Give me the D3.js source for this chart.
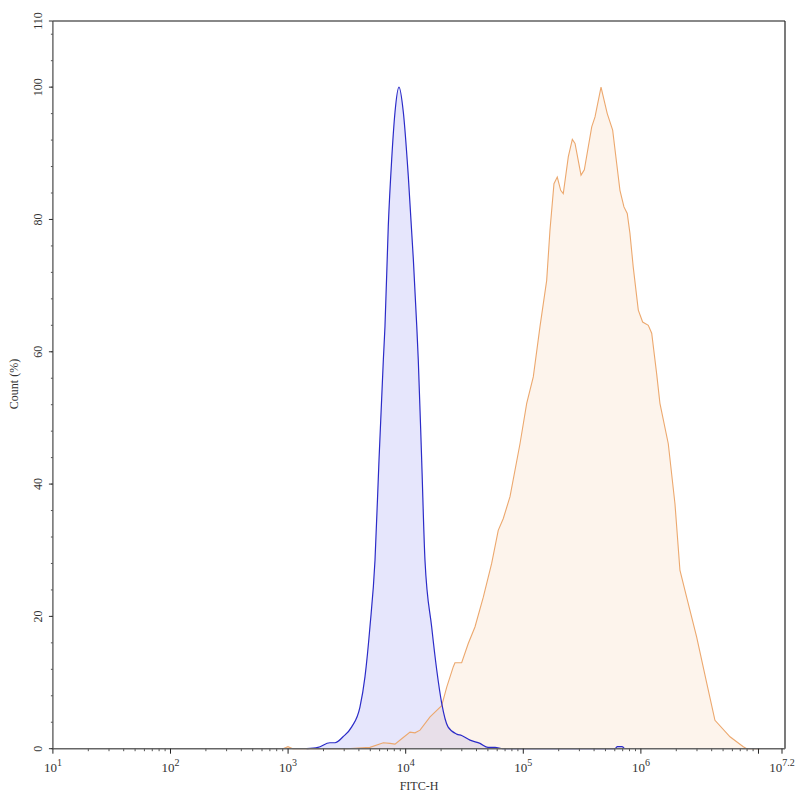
<!DOCTYPE html>
<html lang="en">
  <head>
    <meta charset="utf-8" />
    <title>FITC-H histogram</title>
    <style>
      body {
        margin: 0;
        background: #fff;
      }
      text {
        font-family: 'Liberation Serif', 'DejaVu Serif', serif;
        fill: #333;
      }
    </style>
    <script src="https://d3js.org/d3.v7.min.js"></script>
  </head>

  <body>
    <svg width="800" height="800"></svg>

    <script>
      // blue sample: log10(FITC-H) and count (%)
      const blueLog = [
        3.158, 3.254, 3.356, 3.399, 3.467, 3.541, 3.611, 3.654, 3.696,
        3.739, 3.773, 3.81, 3.824, 3.852, 3.881, 3.909, 3.943, 3.98,
        4.022, 4.065, 4.094, 4.107, 4.136, 4.164, 4.221, 4.264, 4.306,
        4.36, 4.434, 4.476, 4.547, 4.632, 4.7, 4.76, 4.827, 5.78, 5.8,
        5.84, 5.86,
      ];
      const blueCount = [
        0, 0.2, 0.9, 0.9, 1.8, 3.3, 6.3, 10.9, 18.4, 28.5, 43.6, 58.8,
        63.9, 79, 89.1, 96.2, 100, 96.2, 86.6, 74, 63.9, 58.8, 43.6,
        28.5, 18.4, 11.9, 6.9, 3.3, 2.2, 2.0, 1.3, 0.8, 0.2, 0.2, 0, 0,
        0.3, 0.3, 0,
      ];

      // orange sample
      const orangeLog = [
        2.956, 2.999, 3.04, 3.498, 3.696, 3.81, 3.867, 3.909, 3.966,
        4.037, 4.079, 4.122, 4.207, 4.306, 4.349, 4.405, 4.419, 4.476,
        4.532, 4.589, 4.66, 4.731, 4.787, 4.83, 4.887, 4.972, 5.029,
        5.085, 5.142, 5.199, 5.227, 5.261, 5.289, 5.318, 5.34, 5.383,
        5.417, 5.44, 5.491, 5.519, 5.582, 5.61, 5.661, 5.714, 5.76,
        5.794, 5.822, 5.856, 5.884, 5.907, 5.935, 5.978, 6.015, 6.063,
        6.092, 6.134, 6.162, 6.233, 6.29, 6.332, 6.389, 6.474, 6.56,
        6.63, 6.758, 6.871, 6.9, 7.013,
      ];
      const orangeCount = [
        0, 0.3, 0, 0, 0.2, 0.9, 0.8, 0.7, 1.5, 2.5, 2.4, 2.8, 4.8, 6.5,
        9.3, 12.4, 13.0, 13.0, 15.9, 18.4, 22.9, 28, 33, 34.8, 38.1,
        46.1, 52.2, 56.2, 63.8, 70.8, 78.4, 85.4, 86.4, 84.4, 83.9,
        89.5, 92.1, 91.5, 86.7, 87.5, 94, 95.5, 100, 96, 93.5, 88.5,
        84.4, 81.9, 80.9, 77.9, 72.8, 66.3, 64.5, 64, 62.8, 56.7, 52.2,
        46.1, 37, 27, 22.9, 16.9, 9.9, 4.3, 1.8, 0.3, 0, 0,
      ];

      const xMajor = [1, 2, 3, 4, 5, 6, 7];
      const xLabels = ['1', '2', '3', '4', '5', '6', '7.2'];
      const xEnd = 7.2;
      const yMajor = [0, 20, 40, 60, 80, 100, 110];
      const yMinorStep = 4;
      const yMax = 110;

      const svg = d3.select('svg');
      const mLeft = 52.9,
        mRight = 782,
        mTop = 21,
        mBottom = 748.7,
        frameRight = 785;

      const x = d3
        .scaleLog()
        .domain([10, Math.pow(10, xEnd)])
        .range([mLeft, mRight]);
      const y = d3.scaleLinear().domain([0, yMax]).range([mBottom, mTop]);

      const blue = blueLog.map((e, i) => [Math.pow(10, e), blueCount[i]]);
      const orange = orangeLog.map((e, i) => [
        Math.pow(10, e),
        orangeCount[i],
      ]);

      const area = (curve) =>
        d3
          .area()
          .curve(curve)
          .x((d) => x(d[0]))
          .y0(y(0))
          .y1((d) => y(d[1]));
      const line = (curve) =>
        d3
          .line()
          .curve(curve)
          .x((d) => x(d[0]))
          .y((d) => y(d[1]));

      // fills
      svg
        .append('path')
        .datum(blue)
        .attr('d', area(d3.curveMonotoneX))
        .attr('fill', 'rgba(100,100,235,0.16)');
      svg
        .append('path')
        .datum(orange)
        .attr('d', area(d3.curveLinear))
        .attr('fill', 'rgba(245,195,150,0.18)');

      // outlines
      svg
        .append('path')
        .datum(orange)
        .attr('d', line(d3.curveLinear))
        .attr('fill', 'none')
        .attr('stroke', '#eca86e')
        .attr('stroke-width', 1.1);
      svg
        .append('path')
        .datum(blue)
        .attr('d', line(d3.curveMonotoneX))
        .attr('fill', 'none')
        .attr('stroke', '#2b2bc8')
        .attr('stroke-width', 1.2);

      // frame
      svg
        .append('line')
        .attr('x1', mLeft)
        .attr('x2', frameRight)
        .attr('y1', mTop)
        .attr('y2', mTop)
        .attr('stroke', '#888')
        .attr('stroke-width', 2);
      svg
        .append('line')
        .attr('x1', frameRight)
        .attr('x2', frameRight)
        .attr('y1', mTop)
        .attr('y2', mBottom)
        .attr('stroke', '#222')
        .attr('stroke-width', 1.2);

      // y axis
      const gy = svg.append('g');
      gy.append('line')
        .attr('x1', mLeft)
        .attr('x2', mLeft)
        .attr('y1', mTop)
        .attr('y2', mBottom)
        .attr('stroke', '#555')
        .attr('stroke-width', 1.3);
      gy.selectAll('.ymin')
        .data(d3.range(0, yMax, yMinorStep))
        .enter()
        .append('line')
        .attr('x1', mLeft - 2)
        .attr('x2', mLeft)
        .attr('y1', (d) => y(d))
        .attr('y2', (d) => y(d))
        .attr('stroke', '#555');
      gy.selectAll('.ymaj')
        .data(yMajor)
        .enter()
        .append('line')
        .attr('x1', mLeft - 4)
        .attr('x2', mLeft)
        .attr('y1', (d) => y(d))
        .attr('y2', (d) => y(d))
        .attr('stroke', '#333');
      gy.selectAll('text')
        .data(yMajor)
        .enter()
        .append('text')
        .attr('transform', (d) => `translate(42,${y(d)}) rotate(-90)`)
        .attr('text-anchor', 'middle')
        .style('font-size', '12px')
        .text((d) => d);

      // x axis
      const gx = svg.append('g');
      gx.append('line')
        .attr('x1', mLeft)
        .attr('x2', frameRight)
        .attr('y1', mBottom)
        .attr('y2', mBottom)
        .attr('stroke', '#666')
        .attr('stroke-width', 1.5);
      const minor = [];
      xMajor.forEach((e) => {
        d3.range(2, 10).forEach((m) => {
          const v = m * Math.pow(10, e);
          if (v < Math.pow(10, xEnd)) minor.push(v);
        });
      });
      gx.selectAll('.xmin')
        .data(minor)
        .enter()
        .append('line')
        .attr('x1', (d) => x(d))
        .attr('x2', (d) => x(d))
        .attr('y1', mBottom)
        .attr('y2', mBottom + 2.5)
        .attr('stroke', '#555');
      gx.selectAll('.xmaj')
        .data(xMajor.concat([xEnd]))
        .enter()
        .append('line')
        .attr('x1', (d) => x(Math.pow(10, d)))
        .attr('x2', (d) => x(Math.pow(10, d)))
        .attr('y1', mBottom)
        .attr('y2', mBottom + 5)
        .attr('stroke', '#222');
      const xl = gx
        .selectAll('text')
        .data(xLabels)
        .enter()
        .append('text')
        .attr('x', (d) => x(Math.pow(10, +d)))
        .attr('y', 772)
        .attr('text-anchor', 'middle')
        .style('font-size', '13px');
      xl.append('tspan').text('10');
      xl.append('tspan')
        .attr('dy', -6)
        .style('font-size', '10px')
        .text((d) => d);

      // axis titles
      svg
        .append('text')
        .attr('x', 419)
        .attr('y', 790)
        .attr('text-anchor', 'middle')
        .style('font-size', '12px')
        .text('FITC-H');
      svg
        .append('text')
        .attr('transform', 'translate(18,384) rotate(-90)')
        .attr('text-anchor', 'middle')
        .style('font-size', '12px')
        .text('Count (%)');
    </script>
  </body>
</html>
